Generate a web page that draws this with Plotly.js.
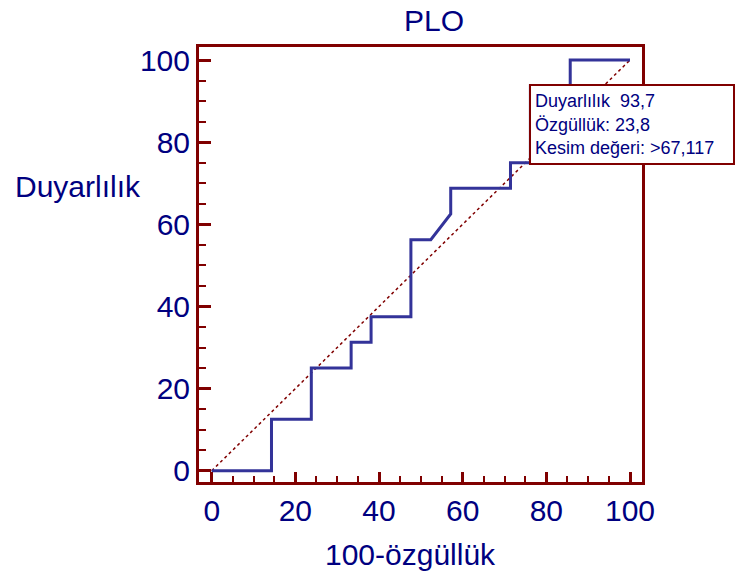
<!DOCTYPE html>
<html>
<head>
<meta charset="utf-8">
<script src="https://cdn.plot.ly/plotly-3.0.1.min.js"></script>
<style>html,body{margin:0;padding:0;background:#fff;}</style>
</head>
<body>
<div id="chart" style="width:735px;height:583px;"></div>
<script>
const chartTitle = "PLO";
const xTitle = "100-özgüllük";
const yTitle = "Duyarlılık";
const tickVals = [0, 20, 40, 60, 80, 100];
const tickText = ["0", "20", "40", "60", "80", "100"];
// ROC curve (100 - specificity, sensitivity)
const fpr = [0, 14.29, 14.29, 23.81, 23.81, 33.33, 33.33, 38.10, 38.10, 47.62, 47.62, 52.38, 57.14, 57.14, 71.43, 71.43, 76.19, 76.19, 85.71, 85.71, 100];
const tpr = [0, 0, 12.5, 12.5, 25, 25, 31.25, 31.25, 37.5, 37.5, 56.25, 56.25, 62.5, 68.75, 68.75, 75, 75, 93.75, 93.75, 100, 100];
const diagX = [0, 100];
const diagY = [0, 100];
const cutX = 76.19;
const cutY = 93.75;
const cutLines = ["Duyarlılık  93,7", "Özgüllük: 23,8", "Kesim değeri: >67,117"];

const navy = "#000080";
const maroon = "#800000";
const fontFam = "Liberation Sans, Arial, sans-serif";

const traces = [
  {x: diagX, y: diagY, mode: "lines", line: {color: maroon, width: 1.5, dash: "dot"}, hoverinfo: "skip"},
  {x: fpr, y: tpr, mode: "lines", line: {color: "#333399", width: 3}, hoverinfo: "skip"}
];

const axisCommon = {
  showline: true, mirror: true, linecolor: maroon, linewidth: 3,
  showgrid: false, zeroline: false,
  tickmode: "array", tickvals: tickVals, ticktext: tickText,
  ticks: "inside", tickcolor: maroon, tickwidth: 3,
  tickfont: {family: fontFam, size: 30, color: navy},
  fixedrange: true
};

const layout = {
  width: 735, height: 583,
  margin: {l: 199, r: 93, t: 47, b: 101, pad: 0},
  paper_bgcolor: "#fff", plot_bgcolor: "#fff",
  showlegend: false,
  hovermode: false,
  font: {family: fontFam, color: navy},
  title: {text: chartTitle, font: {family: fontFam, size: 30, color: navy},
          x: 434 / 735, xanchor: "center", xref: "container",
          y: 1 - 20 / 583, yanchor: "middle", yref: "container"},
  xaxis: Object.assign({}, axisCommon, {
    range: [-3.04, 102.87], ticklen: 10,
    minor: {dtick: 5, tick0: 0, ticks: "inside", ticklen: 6, tickwidth: 2, tickcolor: maroon, showgrid: false}
  }),
  yaxis: Object.assign({}, axisCommon, {
    range: [-2.75, 103.17], ticklen: 12,
    minor: {dtick: 5, tick0: 0, ticks: "inside", ticklen: 7, tickwidth: 2, tickcolor: maroon, showgrid: false}
  }),
  annotations: [
    {text: cutLines.join("<br>"), x: cutX, y: cutY, xref: "x", yref: "y",
     xanchor: "left", yanchor: "top", showarrow: false, align: "left",
     xshift: -1, yshift: 2,
     font: {family: fontFam, size: 18, color: navy},
     bgcolor: "#fff", bordercolor: maroon, borderwidth: 2, borderpad: 4,
     width: 194, height: 69, valign: "middle"},
    {text: yTitle, xref: "paper", yref: "y", x: (13 - 199) / 443, y: 69.3,
     xanchor: "left", yanchor: "middle", showarrow: false,
     font: {family: fontFam, size: 30, color: navy}},
    {text: xTitle, xref: "x", yref: "paper", x: 47.6, y: (482 - 554.5) / 435,
     xanchor: "center", yanchor: "middle", showarrow: false,
     font: {family: fontFam, size: 30, color: navy}}
  ]
};

Plotly.newPlot("chart", traces, layout, {staticPlot: true, displayModeBar: false});
</script>
</body>
</html>
